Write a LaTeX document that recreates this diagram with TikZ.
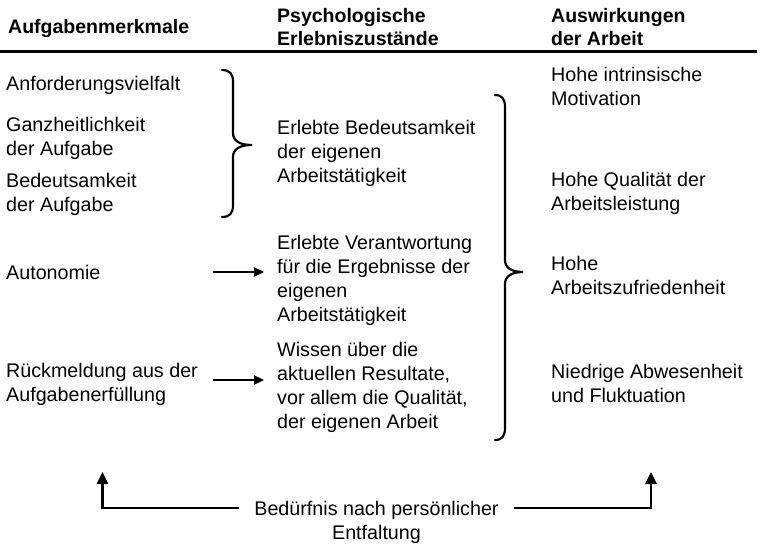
\documentclass[tikz,border=0pt]{standalone}
\usepackage{fontspec}
\setmainfont{Liberation Sans}
\usetikzlibrary{arrows.meta}
\tikzset{
  txt/.style={anchor=west,align=left,inner sep=0pt,font=\fontsize{19.7}{24}\selectfont},
  head/.style={txt,font=\fontsize{19.5}{23.5}\selectfont\bfseries},
  arr/.style={line width=2.3pt,-{Triangle[length=10pt,width=9pt]}},
  bigarr/.style={line width=2.7pt,-{Triangle[length=12pt,width=11pt]}},
  curly/.style={line width=2.2pt,line cap=round}
}

\begin{document}
\begin{tikzpicture}[x=1pt,y=-1pt]
\useasboundingbox (0,0) rectangle (769,551);

\node[head] (h1) at (8,29) {Aufgabenmerkmale};
\node[head] (h2) at (277,27) {Psychologische\\Erlebniszustände};
\node[head] (h3) at (551,27) {Auswirkungen\\der Arbeit};
\coordinate (rl) at (0,51.5);
\coordinate (rr) at (757,51.5);
\draw[line width=2.5pt] (rl) -- (rr);

\node[txt] (anf) at (6,85) {Anforderungsvielfalt};
\node[txt] (ganz) at (6,138) {Ganzheitlichkeit\\der Aufgabe};
\node[txt] (bed) at (6,194) {Bedeutsamkeit\\der Aufgabe};
\node[txt] (auto) at (6,272) {Autonomie};
\node[txt] (rueck) at (6,384) {Rückmeldung aus der\\Aufgabenerfüllung};

\node[txt] (ebed) at (277,153.5) {Erlebte Bedeutsamkeit\\der eigenen\\Arbeitstätigkeit};
\node[txt] (ever) at (277,280) {Erlebte Verantwortung\\für die Ergebnisse der\\eigenen\\Arbeitstätigkeit};
\node[txt] (wiss) at (277,387) {Wissen über die\\aktuellen Resultate,\\vor allem die Qualität,\\der eigenen Arbeit};

\node[txt] (moti) at (551,86) {Hohe intrinsische\\Motivation};
\node[txt] (qual) at (551,193.5) {Hohe Qualität der\\Arbeitsleistung};
\node[txt] (zufr) at (551,275) {Hohe\\Arbeitszufriedenheit};
\node[txt] (abw) at (551,383.5) {Niedrige Abwesenheit\\und Fluktuation};

\draw[curly] (222,70) .. controls (230,70) and (233,74) .. (233,82) -- (233,133)
  .. controls (233,141) and (240,145) .. (252,145)
  .. controls (240,145) and (233,149) .. (233,157) -- (233,205)
  .. controls (233,213) and (230,217) .. (222,217);
\draw[curly] (495,95) .. controls (502,95) and (505,99) .. (505,107) -- (505,260)
  .. controls (505,268) and (512,272) .. (523,272)
  .. controls (512,272) and (505,276) .. (505,284) -- (505,428)
  .. controls (505,436) and (502,440) .. (495,440);

\coordinate (a1s) at (213,272);
\coordinate (a1e) at (264,272);
\coordinate (a2s) at (213,380);
\coordinate (a2e) at (264,380);
\draw[arr] (a1s) -- (a1e);
\draw[arr] (a2s) -- (a2e);

\node[txt,anchor=center,align=center] (need) at (376.5,522) {Bedürfnis nach persönlicher\\Entfaltung};
\coordinate (nl) at (239,508);
\coordinate (nr) at (514,508);
\coordinate (lt) at (102.5,472);
\coordinate (rt) at (651,472);
\draw[bigarr] (nl) -| (lt);
\draw[bigarr] (nr) -| (rt);
\end{tikzpicture}
\end{document}
